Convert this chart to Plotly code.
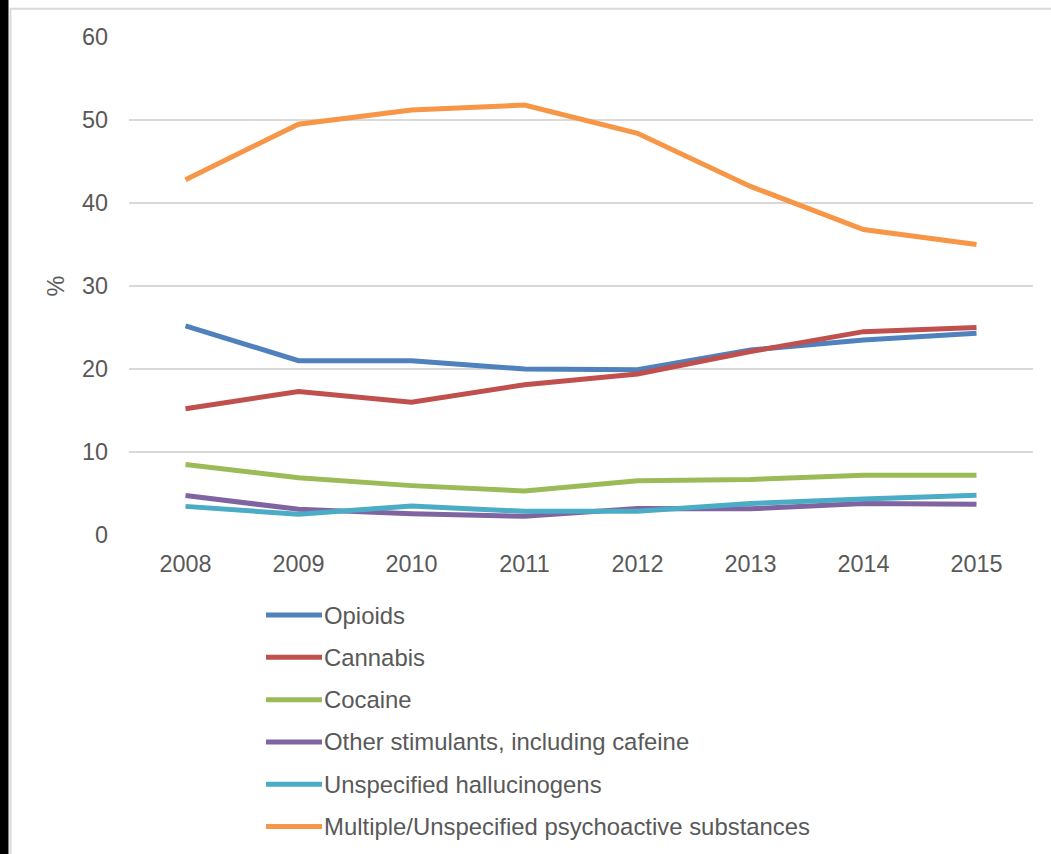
import plotly.graph_objects as go

years = ["2008", "2009", "2010", "2011", "2012", "2013", "2014", "2015"]
opioids = [25.2, 21.0, 21.0, 20.0, 19.9, 22.3, 23.5, 24.3]
cannabis = [15.2, 17.3, 16.0, 18.1, 19.4, 22.1, 24.5, 25.0]
cocaine = [8.5, 6.9, 5.95, 5.3, 6.55, 6.7, 7.2, 7.2]
other_stimulants = [4.75, 3.1, 2.55, 2.25, 3.2, 3.15, 3.8, 3.7]
hallucinogens = [3.45, 2.5, 3.5, 2.85, 2.85, 3.8, 4.35, 4.8]
multiple = [42.8, 49.5, 51.2, 51.8, 48.4, 42.0, 36.8, 35.0]

series_names = ["Opioids", "Cannabis", "Cocaine", "Other stimulants, including cafeine",
                "Unspecified hallucinogens", "Multiple/Unspecified psychoactive substances"]
series_values = [opioids, cannabis, cocaine, other_stimulants, hallucinogens, multiple]
colors = ["#4F81BD", "#C0504D", "#9BBB59", "#8064A2", "#4BACC6", "#F79646"]

W, H = 1051, 854
ML, MR, MT, MB = 129, 18, 36.5, 318.5
PW, PH = W - ML - MR, H - MT - MB
TXT = "#595959"
FONT = "Liberation Sans, Arial, sans-serif"

fig = go.Figure()
for name, vals, c in zip(series_names, series_values, colors):
    fig.add_trace(go.Scatter(x=years, y=vals, name=name, mode="lines",
                             line=dict(color=c, width=5), hoverinfo="skip",
                             showlegend=False))


def px_x(p):
    return (p - ML) / PW


def px_y(p):
    return 1 - (p - MT) / PH


shapes = [
    dict(type="rect", xref="paper", yref="paper", x0=px_x(-5), x1=px_x(8.5),
         y0=px_y(-5), y1=px_y(H + 5), fillcolor="black", line=dict(width=0), layer="above"),
    dict(type="rect", xref="paper", yref="paper", x0=px_x(10.5), x1=px_x(W + 20),
         y0=px_y(H + 20), y1=px_y(8.3), fillcolor="rgba(0,0,0,0)",
         line=dict(color="#D9D9D9", width=2), layer="below"),
]
annotations = []

# legend (drawn as layout decoration: sample line + label per series)
LEG_X0, LEG_X1, LEG_TX = 266, 322, 324
LEG_Y0, LEG_DY = 615.7, 42.4
for i, (name, c) in enumerate(zip(series_names, colors)):
    yc = LEG_Y0 + LEG_DY * i
    shapes.append(dict(type="line", xref="paper", yref="paper",
                       x0=px_x(LEG_X0), x1=px_x(LEG_X1), y0=px_y(yc), y1=px_y(yc),
                       line=dict(color=c, width=5)))
    annotations.append(dict(text=name, xref="paper", yref="paper", x=px_x(LEG_TX),
                            y=px_y(yc), xanchor="left", yanchor="middle", showarrow=False,
                            borderpad=0, xshift=-1,
                            font=dict(family=FONT, size=23.9, color=TXT)))

fig.update_layout(
    width=W, height=H,
    margin=dict(l=ML, r=MR, t=MT, b=MB, pad=0),
    paper_bgcolor="white", plot_bgcolor="white",
    font=dict(family=FONT, color=TXT, size=23.4),
    showlegend=False,
    shapes=shapes,
    annotations=annotations,
    xaxis=dict(type="category", showgrid=False, showline=False, zeroline=False,
               ticks="", tickfont=dict(size=23.4, color=TXT), ticklabelstandoff=13,
               range=[-0.5, 7.5], fixedrange=True),
    yaxis=dict(range=[0, 60], dtick=10, showgrid=True, gridcolor="#D9D9D9", gridwidth=1.5,
               zeroline=False, showline=False, ticks="", ticklabelstandoff=20,
               tickfont=dict(size=23.4, color=TXT),
               title=dict(text="%", font=dict(size=23.4, color=TXT), standoff=10)),
)

fig.write_html("out.html")
